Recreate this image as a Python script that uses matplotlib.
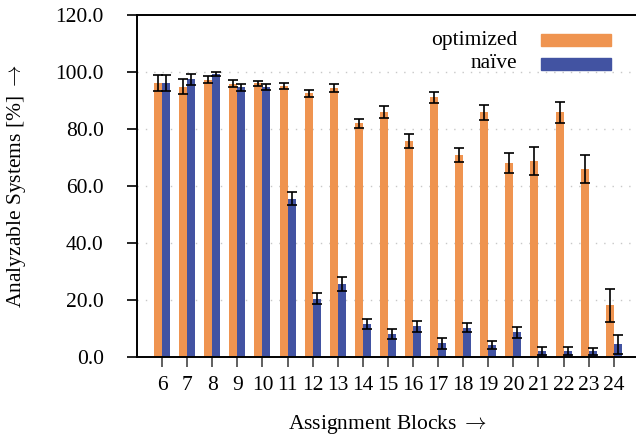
import matplotlib
matplotlib.use("Agg")
import matplotlib.pyplot as plt
import numpy as np
from matplotlib.patches import Rectangle

plt.rcParams['font.family'] = ['Liberation Serif', 'DejaVu Serif']
plt.rcParams['mathtext.fontset'] = 'cm'

blocks = [6, 7, 8, 9, 10, 11, 12, 13, 14, 15, 16, 17, 18, 19, 20, 21, 22, 23, 24]
optimized = [96.1, 94.9, 97.3, 95.9, 96.1, 95.2, 92.6, 94.4, 82.0, 85.9, 75.8, 91.1,
             70.8, 85.8, 68.2, 68.8, 85.8, 66.1, 18.1]
optimized_err = [2.9, 2.6, 1.3, 1.2, 0.9, 1.0, 1.2, 1.3, 1.6, 2.2, 2.4, 2.0,
                 2.5, 2.5, 3.5, 4.8, 3.6, 4.9, 5.9]
naive = [96.1, 97.5, 99.3, 94.7, 94.7, 55.6, 20.5, 25.5, 11.6, 8.1, 10.8, 4.8,
         10.3, 4.1, 8.7, 2.0, 2.0, 2.0, 4.4]
naive_err = [2.9, 1.9, 0.7, 1.2, 1.1, 2.3, 1.8, 2.4, 1.6, 1.9, 1.9, 1.9,
             1.6, 1.4, 2.0, 1.4, 1.35, 1.3, 3.2]
yticks = [0, 20, 40, 60, 80, 100, 120]
labels = ["optimized", "naïve"]

c_opt = "#EF9450"
c_nai = "#4253A2"
FS = 15.5

W, H = 636, 437
fig = plt.figure(figsize=(W / 100, H / 100), dpi=100)
left, right, top, bottom = 137, 638.8, 15, 357
ax = fig.add_axes([left / W, (H - bottom) / H, (right - left) / W, (bottom - top) / H])

x = np.array(blocks, dtype=float)
bw = 0.32
ax.bar(x - bw / 2, optimized, width=bw, color=c_opt, zorder=2, linewidth=0)
ax.bar(x + bw / 2, naive, width=bw, color=c_nai, zorder=2, linewidth=0)
ekw = dict(fmt='none', ecolor='black', elinewidth=1.2, capsize=3.5, capthick=1.2, zorder=3)
ax.errorbar(x - bw / 2, optimized, yerr=optimized_err, **ekw)
ax.errorbar(x + bw / 2, naive, yerr=naive_err, **ekw)

ax.set_xlim(5, 25)
ax.set_ylim(0, 120)
ax.set_xticks(blocks)
ax.set_xticklabels([str(b) for b in blocks])
ax.set_yticks(yticks)
ax.set_yticklabels([f"{v:.1f}" for v in yticks])

for v in yticks[1:-1]:
    ax.axhline(v, color='#c8c8c8', linestyle=(0, (1, 5)), linewidth=1.0, zorder=1)

ax.spines['right'].set_visible(False)
for s in ['left', 'top', 'bottom']:
    ax.spines[s].set_linewidth(1.4)
    ax.spines[s].set_color('black')

ax.tick_params(axis='y', direction='out', length=7, width=1.2, pad=17, labelsize=FS)
ax.tick_params(axis='x', direction='out', length=7, width=1.2, color='#444444', pad=7, labelsize=FS)

ax.set_ylabel(r"Analyzable Systems [%] $\rightarrow$", fontsize=FS)
ax.set_xlabel(r"Assignment Blocks $\rightarrow$", fontsize=FS)
ax.yaxis.set_label_coords((17 - left) / (right - left), 0.5)
ax.yaxis.label.set_va('center')
ax.yaxis.label.set_ha('center')
ax.xaxis.set_label_coords(0.5, -(424 - bottom) / (bottom - top))
ax.xaxis.label.set_va('center')

# legend drawn manually (figure pixel positions)
rows = [(40.3, c_opt, labels[0]), (64.0, c_nai, labels[1])]
for yc, col, lab in rows:
    fig.text(517 / W, 1 - yc / H, lab, ha='right', va='center', fontsize=FS)
    fig.patches.append(Rectangle((541 / W, 1 - (yc + 6) / H), 70 / W, 12 / H,
                                 transform=fig.transFigure, color=col, zorder=5))

fig.savefig("out.png", dpi=100)
